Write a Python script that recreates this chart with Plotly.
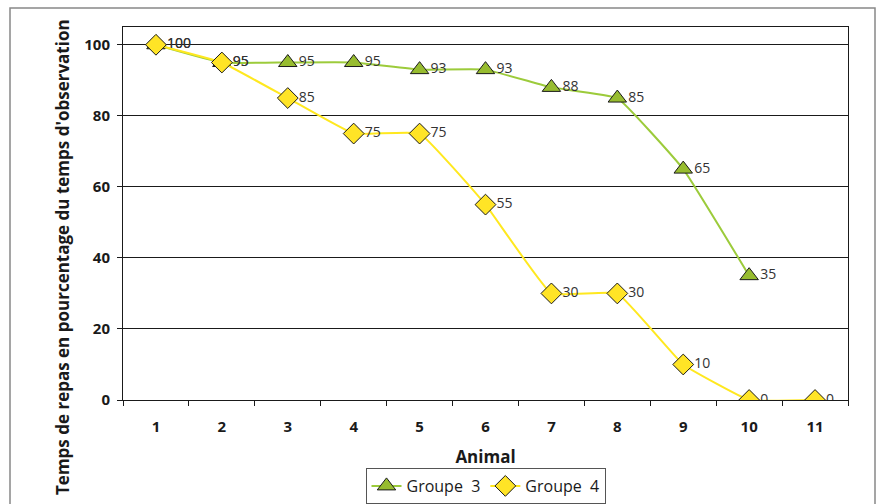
import plotly.graph_objects as go

# Meal time as percentage of observation time, per animal
animals_g3 = [1, 2, 3, 4, 5, 6, 7, 8, 9, 10]
groupe3 = [100, 95, 95, 95, 93, 93, 88, 85, 65, 35]
animals_g4 = [1, 2, 3, 4, 5, 6, 7, 8, 9, 10, 11]
groupe4 = [100, 95, 85, 75, 75, 55, 30, 30, 10, 0, 0]
x_ticks = list(range(1, 12))
y_ticks = [0, 20, 40, 60, 80, 100]

FONT = "Open Sans"
W, H = 876, 504
L, R, T, B = 123, 28, 27, 104
pw, ph = W - L - R, H - T - B

def px_x(p):
    return (p - L) / pw

def px_y(p):
    return (H - B - p) / ph

fig = go.Figure()
fig.add_trace(go.Scatter(
    x=animals_g3, y=groupe3, name="Groupe  3",
    mode="lines+markers+text",
    line=dict(color="#9CCB3B", width=2, shape="spline", smoothing=0.3),
    marker=dict(symbol="triangle-up", size=16, color="#97BC2F",
                line=dict(color="#1a1a1a", width=1)),
    text=[str(v) for v in groupe3], textposition="middle right",
    textfont=dict(family=FONT, size=14, color="#333333"),
))
fig.add_trace(go.Scatter(
    x=animals_g4, y=groupe4, name="Groupe  4",
    mode="lines+markers+text",
    line=dict(color="#FFE81F", width=2, shape="spline", smoothing=0.3),
    marker=dict(symbol="diamond", size=16, color="#FFE426",
                line=dict(color="#1a1a1a", width=1)),
    text=[str(v) for v in groupe4], textposition="middle right",
    textfont=dict(family=FONT, size=14, color="#333333"),
))

fig.update_layout(
    width=W, height=H,
    margin=dict(l=L, r=R, t=T, b=B, autoexpand=False),
    paper_bgcolor="white", plot_bgcolor="white",
    font=dict(family=FONT, color="#1a1a1a"),
    showlegend=True,
    legend=dict(orientation="h", x=0.5, xanchor="center",
                yref="container", y=1 - 468 / H, yanchor="top",
                bordercolor="#555555", borderwidth=1,
                font=dict(family=FONT, size=16, color="#1a1a1a"),
                tracegroupgap=0),
    xaxis=dict(
        range=[0.5, 11.5], tickvals=x_ticks, ticks="", automargin=False,
        ticklabelstandoff=13,
        tickfont=dict(family=FONT, size=15, color="#1a1a1a", weight="bold"),
        showgrid=False, showline=True, linecolor="#1a1a1a", linewidth=1,
        mirror=True,
        minor=dict(tickvals=[i + 0.5 for i in range(0, 12)], ticks="outside",
                   ticklen=5, tickcolor="#1a1a1a", showgrid=False),
        title=dict(text="Animal", standoff=24,
                   font=dict(family=FONT, size=17, color="#1a1a1a", weight="bold")),
    ),
    yaxis=dict(
        range=[0, 105], tickvals=y_ticks, ticks="outside", ticklen=5,
        tickcolor="#1a1a1a", automargin=False, ticklabelstandoff=4,
        tickfont=dict(family=FONT, size=15, color="#1a1a1a", weight="bold"),
        showgrid=True, gridcolor="#1a1a1a", gridwidth=1,
        zeroline=False,
        showline=True, linecolor="#1a1a1a", linewidth=1, mirror=True,
    ),
)

# Y axis title, centred on the whole chart area
fig.add_annotation(
    text="Temps de repas en pourcentage du temps d'observation",
    xref="paper", yref="paper", x=px_x(62), y=px_y(257),
    textangle=-90, showarrow=False, xanchor="center", yanchor="middle",
    font=dict(family=FONT, size=17, color="#1a1a1a", weight="bold"),
)

# Outer chart frame
fig.add_shape(type="rect", xref="paper", yref="paper",
              x0=px_x(10), x1=px_x(875), y0=px_y(520), y1=px_y(8),
              line=dict(color="#888888", width=1.5), layer="below")

fig.write_html("out.html")
